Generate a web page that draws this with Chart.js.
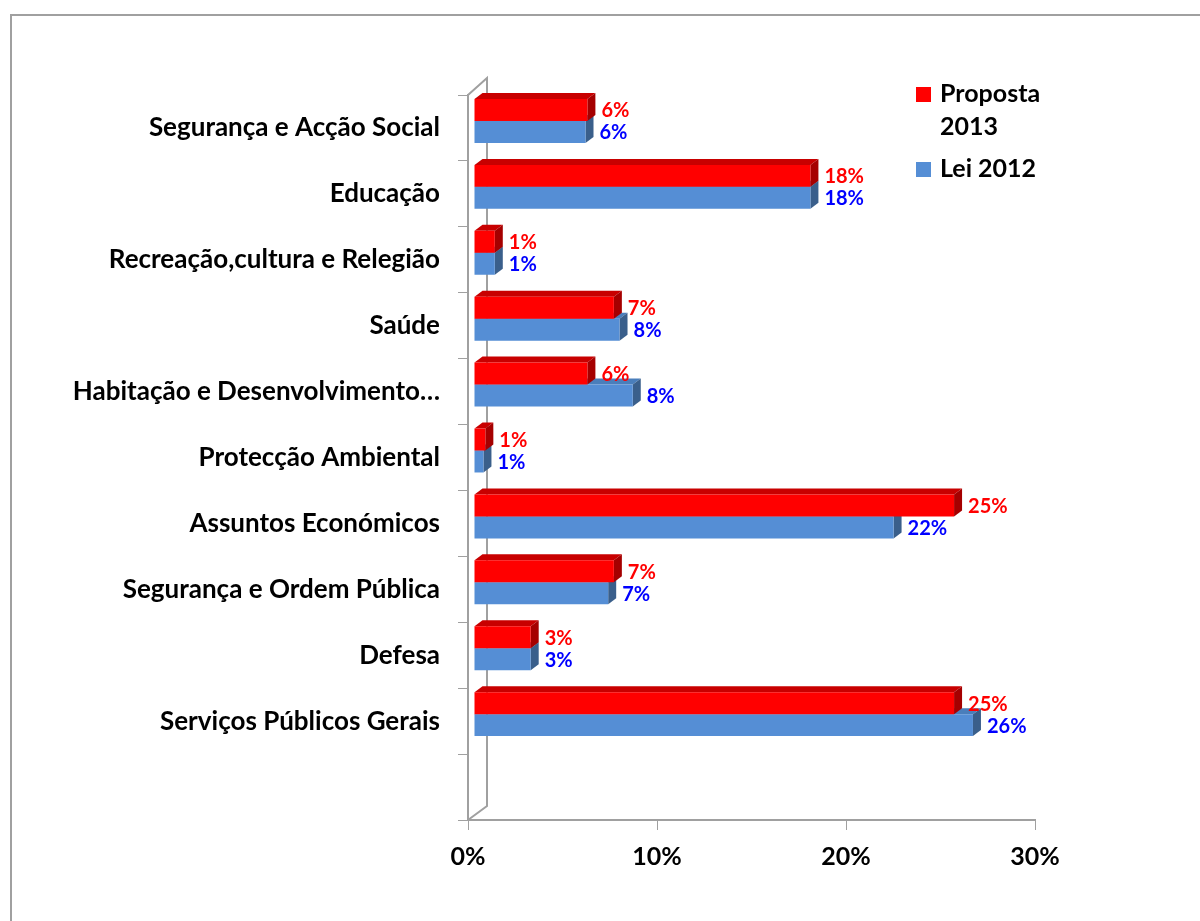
<!DOCTYPE html>
<html>
<head>
<meta charset="utf-8">
<script src="https://cdn.jsdelivr.net/npm/chart.js@4.4.1/dist/chart.umd.min.js"></script>
<style>
body{margin:0;background:#fff}
</style>
</head>
<body>
<canvas id="myChart" width="1200" height="921"></canvas>
<script>
var categories=['Segurança e Acção Social','Educação','Recreação,cultura e Relegião','Saúde','Habitação e Desenvolvimento…','Protecção Ambiental','Assuntos Económicos','Segurança e Ordem Pública','Defesa','Serviços Públicos Gerais','']
var valuesProposta=[6.0,17.8,1.1,7.4,6.0,0.6,25.4,7.4,3.0,25.4,null]
var valuesLei=[5.9,17.8,1.1,7.7,8.4,0.5,22.2,7.1,3.0,26.4,null]
var xTicks=[0,10,20,30]
var seriesNames=[['Proposta','2013'],['Lei 2012']]

var frontColors=['#ff0000','#558ed5']
var topColors=['#c80000','#4a7ebb']
var sideColors=['#a50000','#3a5f8b']
var labelColors=['#ff0000','#0000ff']
var font='Lato'
var axisGray='#a0a0a0'

// bars sit a bit inside the box, faces give the 3d look
var shiftX=6, shiftY=-7, depthX=8, depthY=6

var box3d={
    id:'box3d',
    beforeDraw:function(chart){
        var ctx=chart.ctx, a=chart.chartArea
        ctx.save()
        ctx.strokeStyle=axisGray
        ctx.lineWidth=2
        ctx.strokeRect(11,15,1400,1200)
        ctx.beginPath()
        ctx.moveTo(a.left,a.top)
        ctx.lineTo(a.left+19,a.top-17)
        ctx.lineTo(a.left+19,a.bottom-14)
        ctx.lineTo(a.left,a.bottom)
        ctx.stroke()
        ctx.restore()
    },
    beforeDatasetsDraw:function(chart){
        chart.ctx.save()
        chart.ctx.translate(shiftX,shiftY)
    },
    beforeDatasetDraw:function(chart,args){
        var ctx=chart.ctx, i=args.index
        var values=chart.data.datasets[i].data
        args.meta.data.forEach(function(bar,j){
            if(values[j]==null) return
            var p=bar.getProps(['x','y','base','height'],true)
            var t=p.y-p.height/2, b=p.y+p.height/2
            ctx.fillStyle=topColors[i]
            ctx.beginPath()
            ctx.moveTo(p.base,t)
            ctx.lineTo(p.x,t)
            ctx.lineTo(p.x+depthX,t-depthY)
            ctx.lineTo(p.base+depthX,t-depthY)
            ctx.closePath()
            ctx.fill()
            ctx.fillStyle=sideColors[i]
            ctx.beginPath()
            ctx.moveTo(p.x,t)
            ctx.lineTo(p.x+depthX,t-depthY)
            ctx.lineTo(p.x+depthX,b-depthY)
            ctx.lineTo(p.x,b)
            ctx.closePath()
            ctx.fill()
        })
    },
    afterDatasetsDraw:function(chart){
        var ctx=chart.ctx
        ctx.font='bold 20px '+font
        ctx.textAlign='left'
        ctx.textBaseline='middle'
        chart.data.datasets.forEach(function(ds,i){
            ctx.fillStyle=labelColors[i]
            chart.getDatasetMeta(i).data.forEach(function(bar,j){
                var v=ds.data[j]
                if(v==null) return
                ctx.fillText(Math.round(v)+'%',bar.x+14,bar.y+1)
            })
        })
        ctx.restore()
    },
    afterDraw:function(chart){
        // legend, first name wraps on two lines
        var ctx=chart.ctx
        ctx.save()
        ctx.font='bold 25px '+font
        ctx.textAlign='left'
        ctx.textBaseline='middle'
        var y=94
        seriesNames.forEach(function(lines,i){
            ctx.fillStyle=frontColors[i]
            ctx.fillRect(916,y-7,15,15)
            ctx.fillStyle='#000'
            lines.forEach(function(line){
                ctx.fillText(line,940,y)
                y+=33
            })
            y+=9
        })
        ctx.restore()
    }
}

new Chart('myChart',{
    type:'bar',
    data:{
        labels:categories,
        datasets:[
            {label:seriesNames[0].join(' '),data:valuesProposta,backgroundColor:frontColors[0]},
            {label:seriesNames[1].join(' '),data:valuesLei,backgroundColor:frontColors[1]}
        ]
    },
    options:{
        indexAxis:'y',
        responsive:false,
        animation:false,
        categoryPercentage:0.667,
        barPercentage:1,
        layout:{padding:{left:0,top:95,right:165,bottom:41}},
        plugins:{legend:{display:false},tooltip:{enabled:false}},
        scales:{
            x:{
                min:0,max:30,
                afterBuildTicks:function(s){s.ticks=xTicks.map(function(v){return {value:v}})},
                afterFit:function(s){s.height=60},
                grid:{drawOnChartArea:false,tickLength:10,color:axisGray,lineWidth:1},
                border:{color:axisGray,width:2},
                ticks:{padding:12,color:'#000',font:{family:font,size:25,weight:'bold'},callback:function(v){return v+'%'}}
            },
            y:{
                afterFit:function(s){s.width=468},
                grid:{drawOnChartArea:false,tickLength:10,color:axisGray,lineWidth:1,offset:true},
                border:{color:axisGray,width:2},
                ticks:{padding:18,color:'#000',autoSkip:false,font:{family:font,size:26,weight:'bold'}}
            }
        }
    },
    plugins:[box3d]
})
</script>
</body>
</html>
